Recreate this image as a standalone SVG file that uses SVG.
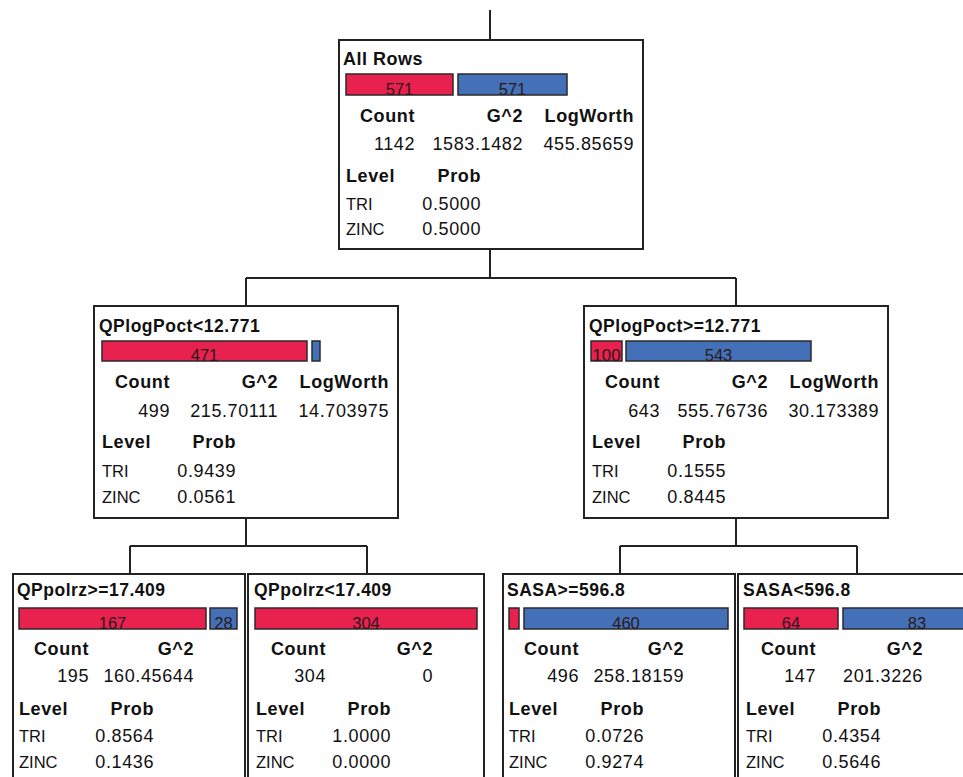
<svg xmlns="http://www.w3.org/2000/svg" width="963" height="777" viewBox="0 0 963 777">
<style>
.box{fill:#fff;stroke:#222;stroke-width:2}
.red{fill:#E8214F;stroke:#2a2a2a;stroke-width:1.5}
.blue{fill:#4470B8;stroke:#2a2a2a;stroke-width:1.5}
.bl{font-family:"Liberation Sans",Arial,sans-serif;font-size:16.5px;fill:#2a1a1a;text-anchor:middle}
.t{font-family:"Liberation Sans",Arial,sans-serif;font-size:17.5px;font-weight:bold;fill:#111;letter-spacing:0.5px}
.h{font-family:"Liberation Sans",Arial,sans-serif;font-size:18px;font-weight:bold;fill:#111;letter-spacing:0.6px}
.v{font-family:"Liberation Sans",Arial,sans-serif;font-size:18px;fill:#111;letter-spacing:0.6px}
.l{font-family:"Liberation Sans",Arial,sans-serif;font-size:16.5px;fill:#111}
.e{text-anchor:end}
.c{fill:none;stroke:#222;stroke-width:2}
</style>
<rect width="963" height="777" fill="#fff"/>
<g id="connectors" class="c">
<path d="M490 10V40"/>
<path d="M490 249V278M246 278H736M246 278V306M736 278V306"/>
<path d="M246 518V546M130 546H367M130 546V574M367 546V574"/>
<path d="M736 518V546M620 546H857M620 546V574M857 546V574"/>
</g>
<g id="root" transform="translate(339,40)">
<rect class="box" x="0" y="0" width="304" height="209"/>
<text class="t" x="4" y="25" textLength="80" lengthAdjust="spacingAndGlyphs">All Rows</text>
<rect class="red" x="7" y="34" width="107" height="21"/><text class="bl" x="60.5" y="54.5">571</text>
<rect class="blue" x="119" y="34" width="109" height="21"/><text class="bl" x="173.5" y="54.5">571</text>
<text class="h e" x="76" y="82">Count</text><text class="h e" x="184" y="82">G^2</text><text class="h e" x="295" y="82">LogWorth</text>
<text class="v e" x="76" y="110">1142</text><text class="v e" x="184" y="110">1583.1482</text><text class="v e" x="295" y="110">455.85659</text>
<text class="h" x="7" y="142">Level</text><text class="h e" x="142" y="142">Prob</text>
<text class="l" x="7" y="170">TRI</text><text class="v e" x="142" y="170">0.5000</text>
<text class="l" x="7" y="195">ZINC</text><text class="v e" x="142" y="195">0.5000</text>
</g>
<g id="n-left" transform="translate(94,306)">
<rect class="box" x="0" y="0" width="304" height="212"/>
<text class="t" x="5" y="26">QPlogPoct&lt;12.771</text>
<rect class="red" x="8" y="35" width="205" height="20"/><text class="bl" x="110.5" y="54.5">471</text>
<rect class="blue" x="218" y="35" width="8" height="20"/>
<text class="h e" x="76" y="82">Count</text><text class="h e" x="184" y="82">G^2</text><text class="h e" x="295" y="82">LogWorth</text>
<text class="v e" x="76" y="111">499</text><text class="v e" x="184" y="111">215.70111</text><text class="v e" x="295" y="111">14.703975</text>
<text class="h" x="8" y="142">Level</text><text class="h e" x="142" y="142">Prob</text>
<text class="l" x="8" y="171">TRI</text><text class="v e" x="142" y="171">0.9439</text>
<text class="l" x="8" y="197">ZINC</text><text class="v e" x="142" y="197">0.0561</text>
</g>
<g id="n-right" transform="translate(584,306)">
<rect class="box" x="0" y="0" width="304" height="212"/>
<text class="t" x="5" y="26">QPlogPoct&gt;=12.771</text>
<rect class="red" x="7" y="35" width="31" height="20"/><text class="bl" x="22.5" y="54.5" textLength="28" lengthAdjust="spacingAndGlyphs">100</text>
<rect class="blue" x="42" y="35" width="185" height="20"/><text class="bl" x="134.5" y="54.5">543</text>
<text class="h e" x="76" y="82">Count</text><text class="h e" x="184" y="82">G^2</text><text class="h e" x="295" y="82">LogWorth</text>
<text class="v e" x="76" y="111">643</text><text class="v e" x="184" y="111">555.76736</text><text class="v e" x="295" y="111">30.173389</text>
<text class="h" x="8" y="142">Level</text><text class="h e" x="142" y="142">Prob</text>
<text class="l" x="8" y="171">TRI</text><text class="v e" x="142" y="171">0.1555</text>
<text class="l" x="8" y="197">ZINC</text><text class="v e" x="142" y="197">0.8445</text>
</g>
<g id="n-ll" transform="translate(13,574)">
<rect class="box" x="0" y="0" width="232" height="220"/>
<text class="t" x="4" y="22">QPpolrz&gt;=17.409</text>
<rect class="red" x="6" y="34" width="187" height="21"/><text class="bl" x="99.5" y="54.5">167</text>
<rect class="blue" x="197" y="34" width="27" height="21"/><text class="bl" x="210.5" y="54.5">28</text>
<text class="h e" x="76" y="81">Count</text><text class="h e" x="181" y="81">G^2</text>
<text class="v e" x="76" y="108">195</text><text class="v e" x="181" y="108">160.45644</text>
<text class="h" x="6" y="141">Level</text><text class="h e" x="141" y="141">Prob</text>
<text class="l" x="6" y="168">TRI</text><text class="v e" x="141" y="168">0.8564</text>
<text class="l" x="6" y="194">ZINC</text><text class="v e" x="141" y="194">0.1436</text>
</g>
<g id="n-lr" transform="translate(248,574)">
<rect class="box" x="0" y="0" width="236" height="220"/>
<text class="t" x="6" y="22">QPpolrz&lt;17.409</text>
<rect class="red" x="7" y="34" width="222" height="21"/><text class="bl" x="118" y="54.5">304</text>
<text class="h e" x="78" y="81">Count</text><text class="h e" x="185" y="81">G^2</text>
<text class="v e" x="78" y="108">304</text><text class="v e" x="185" y="108">0</text>
<text class="h" x="8" y="141">Level</text><text class="h e" x="143" y="141">Prob</text>
<text class="l" x="8" y="168">TRI</text><text class="v e" x="143" y="168">1.0000</text>
<text class="l" x="8" y="194">ZINC</text><text class="v e" x="143" y="194">0.0000</text>
</g>
<g id="n-rl" transform="translate(503,574)">
<rect class="box" x="0" y="0" width="232" height="220"/>
<text class="t" x="4" y="22">SASA&gt;=596.8</text>
<rect class="red" x="6" y="34" width="10" height="21"/>
<rect class="blue" x="21" y="34" width="204" height="21"/><text class="bl" x="123" y="54.5">460</text>
<text class="h e" x="76" y="81">Count</text><text class="h e" x="181" y="81">G^2</text>
<text class="v e" x="76" y="108">496</text><text class="v e" x="181" y="108">258.18159</text>
<text class="h" x="6" y="141">Level</text><text class="h e" x="141" y="141">Prob</text>
<text class="l" x="6" y="168">TRI</text><text class="v e" x="141" y="168">0.0726</text>
<text class="l" x="6" y="194">ZINC</text><text class="v e" x="141" y="194">0.9274</text>
</g>
<g id="n-rr" transform="translate(738,574)">
<rect class="box" x="0" y="0" width="236" height="220"/>
<text class="t" x="5" y="22">SASA&lt;596.8</text>
<rect class="red" x="6" y="34" width="94" height="21"/><text class="bl" x="53" y="54.5">64</text>
<rect class="blue" x="105" y="34" width="160" height="21"/><text class="bl" x="179" y="54.5">83</text>
<text class="h e" x="78" y="81">Count</text><text class="h e" x="185" y="81">G^2</text>
<text class="v e" x="78" y="108">147</text><text class="v e" x="185" y="108">201.3226</text>
<text class="h" x="8" y="141">Level</text><text class="h e" x="143" y="141">Prob</text>
<text class="l" x="8" y="168">TRI</text><text class="v e" x="143" y="168">0.4354</text>
<text class="l" x="8" y="194">ZINC</text><text class="v e" x="143" y="194">0.5646</text>
</g>
</svg>
